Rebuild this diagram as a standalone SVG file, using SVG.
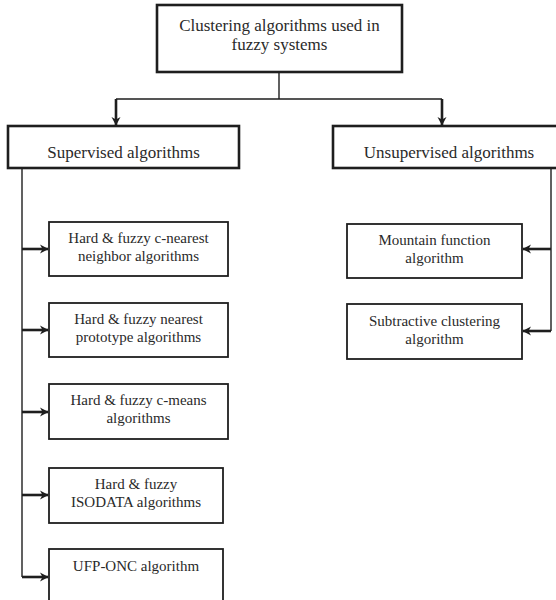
<svg xmlns="http://www.w3.org/2000/svg" width="556" height="600" viewBox="0 0 556 600">
<style>
.bg{fill:#fff}
.main{fill:#fff;stroke:#1e1e1e;stroke-width:2.6}
.child{fill:#fff;stroke:#1e1e1e;stroke-width:1.8}
.t1{font-family:"Liberation Serif","Times New Roman",serif;font-size:17px;fill:#2a2a2a;text-anchor:middle}
.t2{font-family:"Liberation Serif","Times New Roman",serif;font-size:15px;fill:#2a2a2a;text-anchor:middle}
.thin{fill:none;stroke:#1e1e1e;stroke-width:1.4}
.thick{fill:none;stroke:#1e1e1e;stroke-width:2.6}
</style>
<defs>
<marker id="ah" viewBox="0 0 10 10" refX="9" refY="5" markerWidth="10" markerHeight="10" markerUnits="userSpaceOnUse" orient="auto">
<path d="M1,0.5 L9.5,5 L1,9.5 L3.5,5 Z" fill="#1e1e1e"/>
</marker>
</defs>
<rect class="bg" x="0" y="0" width="556" height="600"/>
<g id="connectors">
<path class="thin" d="M279,72 V99 M116,99 H442"/>
<path class="thick" d="M116,99 V125" marker-end="url(#ah)"/>
<path class="thick" d="M442,99 V125" marker-end="url(#ah)"/>
<path class="thin" d="M22,168 V577"/>
<path class="thin" d="M551,168 V331"/>
<path class="thick" d="M22,249 H48" marker-end="url(#ah)"/>
<path class="thick" d="M22,330 H48" marker-end="url(#ah)"/>
<path class="thick" d="M22,412 H48" marker-end="url(#ah)"/>
<path class="thick" d="M22,495 H48" marker-end="url(#ah)"/>
<path class="thick" d="M22,577 H48" marker-end="url(#ah)"/>
<path class="thick" d="M551,249 H523" marker-end="url(#ah)"/>
<path class="thick" d="M551,331 H523" marker-end="url(#ah)"/>
</g>
<g id="root">
<rect class="main" x="157" y="5" width="245" height="67"/>
<text class="t1" x="279.5" y="31">Clustering algorithms used in</text>
<text class="t1" x="279.5" y="50">fuzzy systems</text>
</g>
<g id="supervised">
<rect class="main" x="8" y="126" width="231" height="42"/>
<text class="t1" x="123.5" y="158">Supervised algorithms</text>
</g>
<g id="unsupervised">
<rect class="main" x="333" y="126" width="232" height="42"/>
<text class="t1" x="449" y="158">Unsupervised algorithms</text>
</g>
<g id="c-nearest">
<rect class="child" x="49" y="222" width="179" height="54"/>
<text class="t2" x="138.5" y="243">Hard &amp; fuzzy c-nearest</text>
<text class="t2" x="138.5" y="261">neighbor algorithms</text>
</g>
<g id="nearest-prototype">
<rect class="child" x="49" y="303" width="179" height="54"/>
<text class="t2" x="138.5" y="324">Hard &amp; fuzzy nearest</text>
<text class="t2" x="138.5" y="342">prototype algorithms</text>
</g>
<g id="c-means">
<rect class="child" x="49" y="384" width="179" height="55"/>
<text class="t2" x="138.5" y="405">Hard &amp; fuzzy c-means</text>
<text class="t2" x="138.5" y="423">algorithms</text>
</g>
<g id="isodata">
<rect class="child" x="49" y="468" width="174" height="55"/>
<text class="t2" x="136" y="489">Hard &amp; fuzzy</text>
<text class="t2" x="136" y="507">ISODATA algorithms</text>
</g>
<g id="ufp-onc">
<rect class="child" x="49" y="549" width="174" height="60"/>
<text class="t2" x="136" y="571">UFP-ONC algorithm</text>
</g>
<g id="mountain">
<rect class="child" x="347" y="224" width="175" height="54"/>
<text class="t2" x="434.5" y="245">Mountain function</text>
<text class="t2" x="434.5" y="263">algorithm</text>
</g>
<g id="subtractive">
<rect class="child" x="347" y="304" width="175" height="55"/>
<text class="t2" x="434.5" y="326">Subtractive clustering</text>
<text class="t2" x="434.5" y="344">algorithm</text>
</g>
</svg>
